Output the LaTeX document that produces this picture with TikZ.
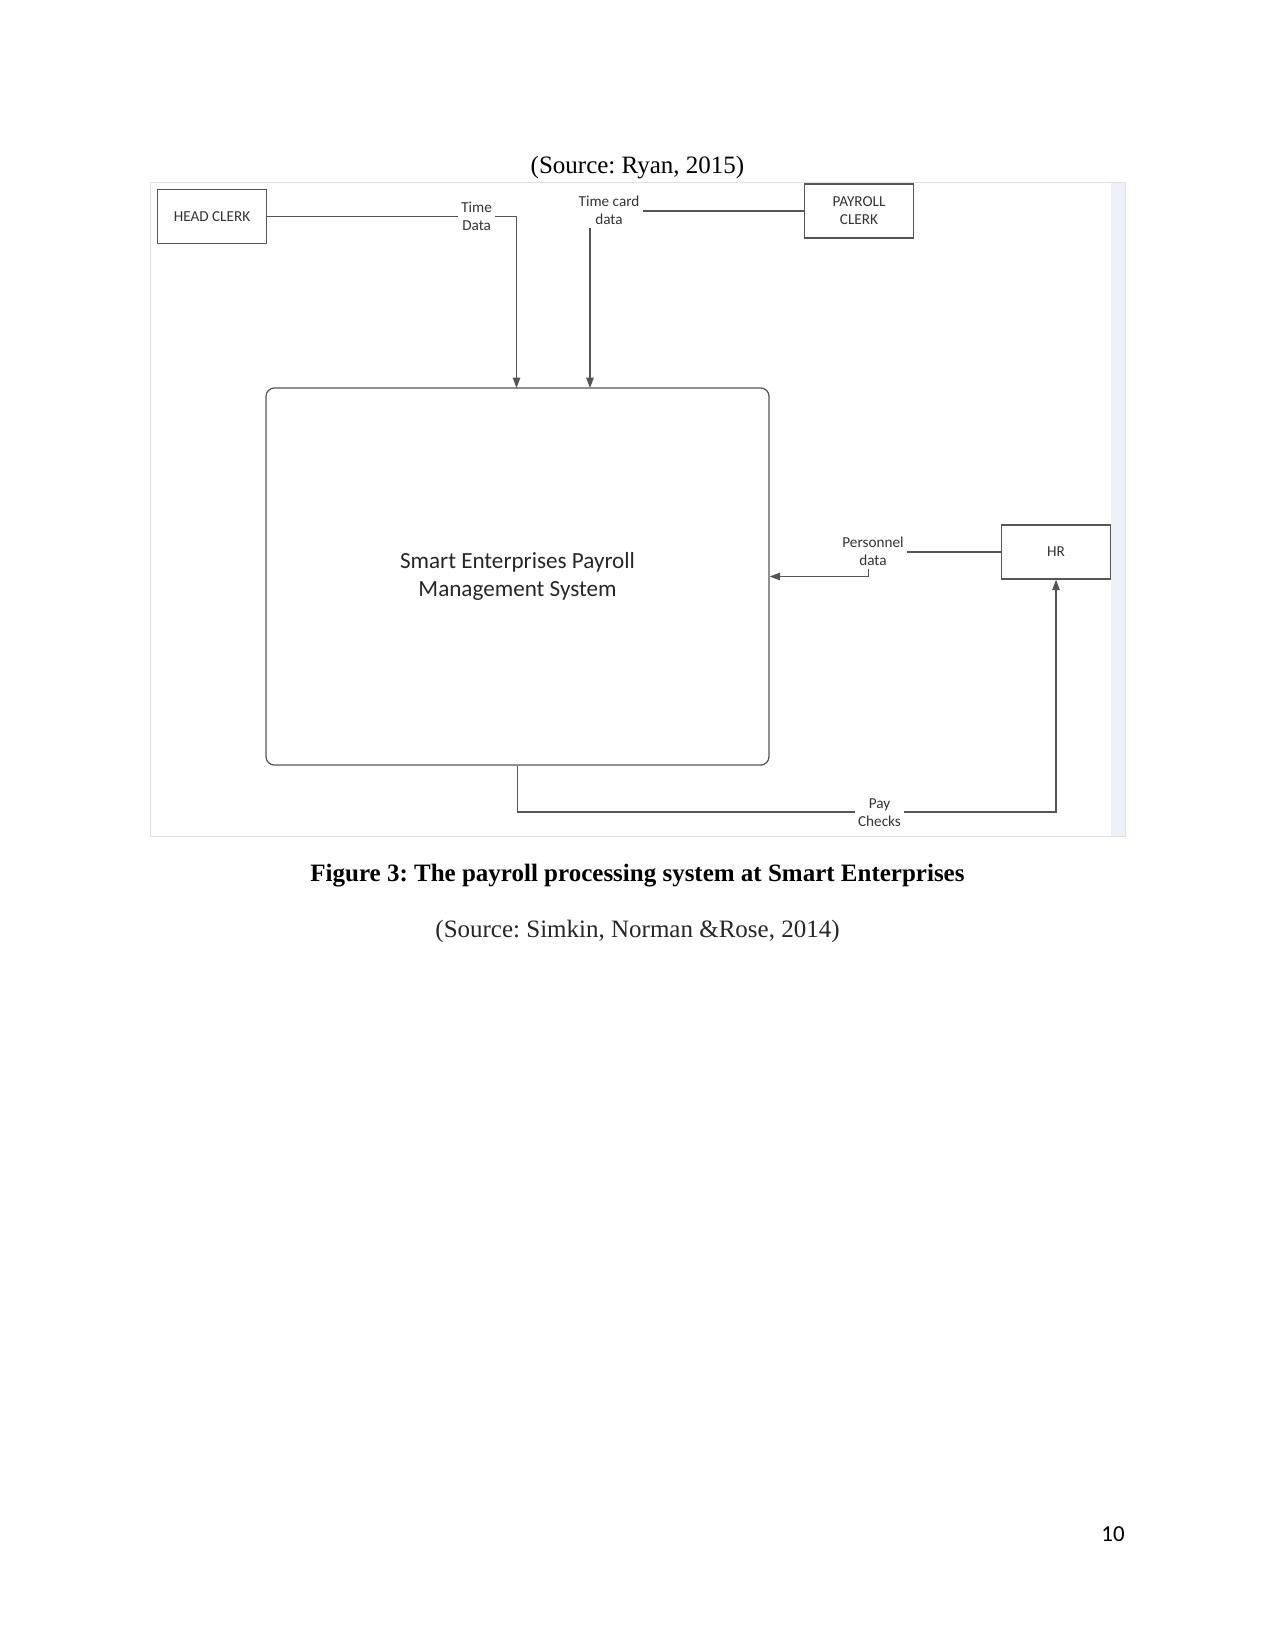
\documentclass[tikz,border=0pt]{standalone}
\usepackage{fontspec}
\setmainfont{Liberation Serif}
\newfontfamily\diagfont{Carlito}
\usetikzlibrary{arrows.meta, positioning}
\definecolor{stripblue}{RGB}{236,241,247}
\definecolor{linegray}{RGB}{85,85,85}
\frenchspacing

\begin{document}
\begin{tikzpicture}[
    x=0.48pt, y=-0.48pt,
    font=\fontsize{12}{14.5}\selectfont,
    entity/.style={draw=linegray, semithick, minimum width=52pt, minimum height=26pt, align=center, text=black!80,
        font=\diagfont\fontsize{7.3}{8.6}\selectfont, inner sep=1pt},
    process/.style={draw=linegray, semithick, rounded corners=4pt, minimum width=241.4pt, minimum height=181pt, align=center,
        text=black!85, font=\diagfont\fontsize{11.1}{13.1}\selectfont},
    lbl/.style={align=center, inner sep=1.5pt, text=black!80, font=\diagfont\fontsize{7.3}{8.6}\selectfont},
    link/.style={linegray, semithick},
    flow/.style={linegray, semithick, -{Triangle[length=5pt, width=3.6pt]}}
]
\useasboundingbox (0,0) rectangle (1275,1650);

% frame of the pasted figure
\fill[stripblue] (1111,182) rectangle (1125.6,836);
\draw[black!12] (150.4,182) rectangle (1125.6,836);

\node (srcryan) at (637.5,168) {(Source: Ryan, 2015)};

% external entities and process
\node[entity] (hc) at (212,216.7) {HEAD CLERK};
\node[entity] (pc) at (859,211) {PAYROLL\\CLERK};
\node[entity] (hr) at (1056,552) {HR};
\node[process] (mps) at (517.5,576.5) {Smart Enterprises Payroll\\Management System};

% flow labels
\node[lbl] (tdlabel) at (476.6,216) {Time\\Data};
\node[lbl] (tclabel) at (609,210) {Time card\\data};
\node[lbl] (pdlabel) at (873,551) {Personnel\\data};
\node[lbl] (pclabel) at (879.5,813) {Pay\\Checks};

\coordinate (tdin) at (516.5,388);
\coordinate (tcin) at (590,388);

% data flows
\draw[link] (hc.east) -- (hc.east -| tdlabel.west);
\draw[flow] (tdlabel.east |- hc.east) -| (tdin);
\draw[link] (pc.west -| tclabel.east) -- (pc.west);
\draw[flow] (tcin |- tclabel.south) -- (tcin);
\draw[link] (hr.west) -- (hr.west -| pdlabel.east);
\draw[flow] ([xshift=-2.2pt]pdlabel.south) |- (mps.east);
\draw[link] (mps.south) |- (pclabel.west |- 0,812);
\draw[flow] (pclabel.east |- 0,812) -| (hr.south);

\node[font=\fontsize{12}{14.5}\selectfont\bfseries] (caption) at (637.5,876) {Figure 3: The payroll processing system at Smart Enterprises};
\node[text=black!85] (srcsimkin) at (637.5,931) {(Source: Simkin, Norman \&Rose, 2014)};
\node[font=\diagfont\fontsize{11}{13}\selectfont] (pagenum) at (1113,1534) {10};

\end{tikzpicture}
\end{document}
